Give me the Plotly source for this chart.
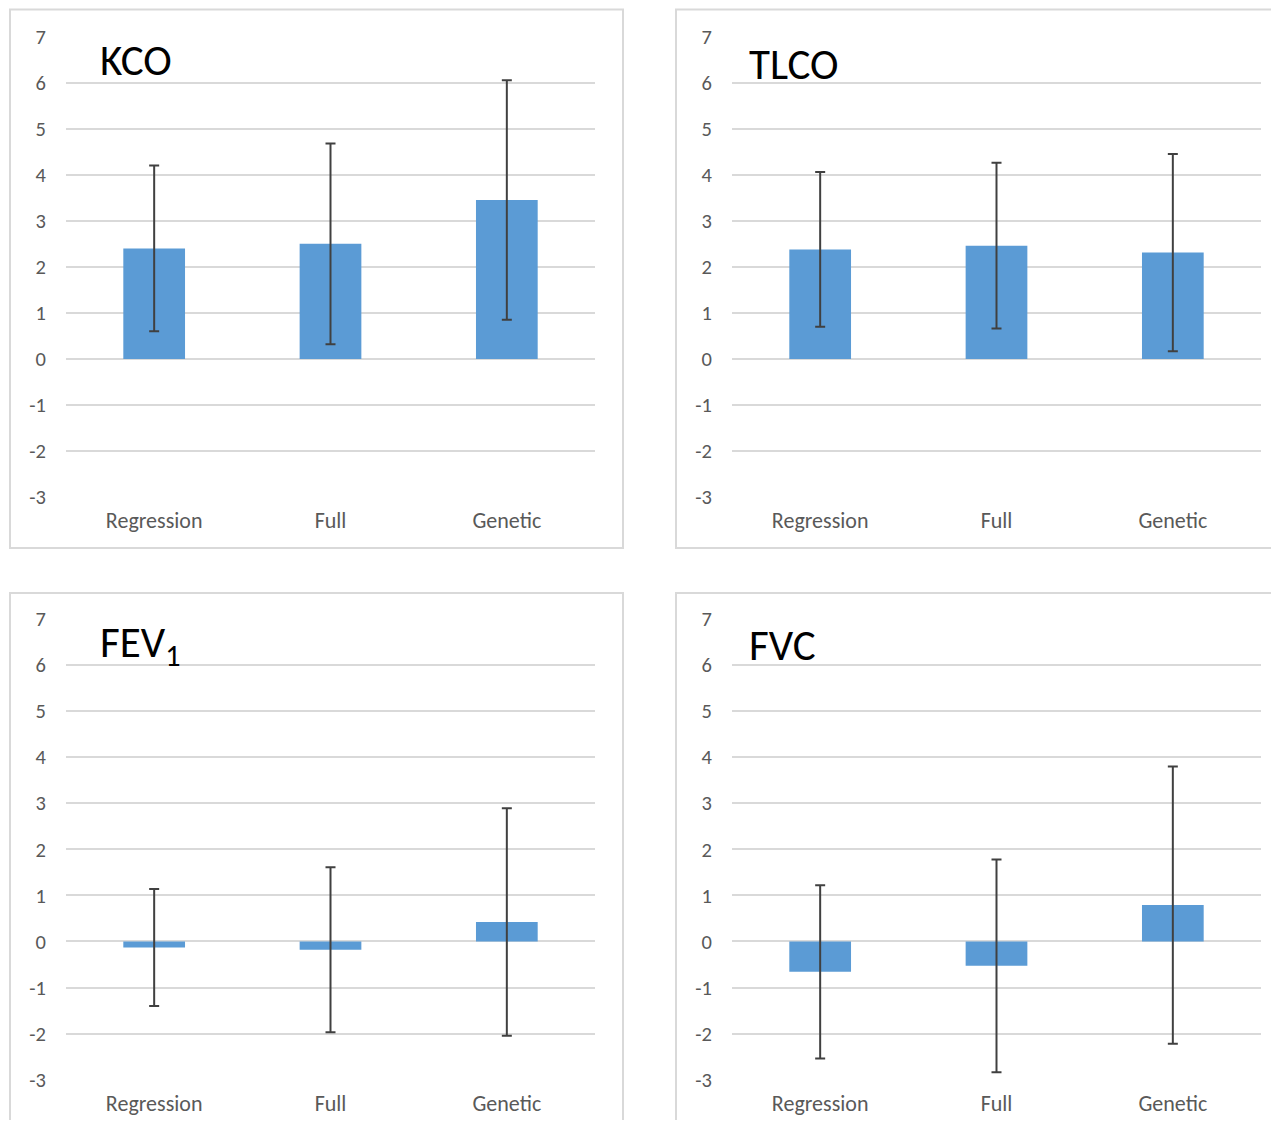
import plotly.graph_objects as go

categories = ["Regression", "Full", "Genetic"]
panel_titles = ["KCO", "TLCO", "FEV<sub>1</sub>", "FVC"]
kco_mean = [2.40, 2.50, 3.45]
kco_err = [1.80, 2.18, 2.60]
tlco_mean = [2.38, 2.46, 2.31]
tlco_err = [1.68, 1.80, 2.14]
fev1_mean = [-0.13, -0.18, 0.42]
fev1_err = [1.27, 1.79, 2.47]
fvc_mean = [-0.66, -0.53, 0.79]
fvc_err = [1.88, 2.31, 3.01]
y_ticks = [-3, -2, -1, 0, 1, 2, 3, 4, 5, 6, 7]
y_tick_text = ["-3", "-2", "-1", "0", "1", "2", "3", "4", "5", "6", "7"]

W, H = 1263, 1112
OX = 8            # page offset of plot area (x)
TY, HR = 21.4, 1087.0  # observed page offset / height of the paper area (y)
FONT = "Carlito, Calibri, Lato, Open Sans, sans-serif"


def px(x):
    return (x - OX) / W


def py(y):
    return 1 - (y - TY) / HR


means = [kco_mean, tlco_mean, fev1_mean, fvc_mean]
errs = [kco_err, tlco_err, fev1_err, fvc_err]

x_doms = [(px(66), px(595)), (px(732), px(1261))]
y_doms = [(py(498), py(37)), (py(1081), py(620))]

fig = go.Figure()
layout = dict(
    width=W, height=H,
    margin=dict(l=0, r=0, t=0, b=0),
    paper_bgcolor="white", plot_bgcolor="white",
    showlegend=False, bargap=0.65,
    font=dict(family=FONT, color="#595959", size=20),
)
annotations = []
shapes = []
for i in range(4):
    row, col = divmod(i, 2)
    ax = "" if i == 0 else str(i + 1)
    fig.add_trace(go.Bar(
        x=categories, y=means[i],
        xaxis="x" + ax, yaxis="y" + ax,
        marker=dict(color="#5B9BD5", line=dict(width=0)),
        error_y=dict(type="data", array=errs[i], visible=True,
                     color="#404040", thickness=2, width=5),
    ))
    layout["xaxis" + ax] = dict(
        domain=x_doms[col], anchor="y" + ax, showgrid=False,
        showline=False, zeroline=False, ticks="",
        ticklabelstandoff=8, tickfont=dict(family=FONT, size=22, color="#595959"),
    )
    layout["yaxis" + ax] = dict(
        domain=y_doms[row], anchor="x" + ax, range=[-3, 7],
        tickvals=y_ticks, ticktext=y_tick_text,
        showgrid=True, gridcolor="#D9D9D9", gridwidth=1.5,
        zeroline=True, zerolinecolor="#D9D9D9", zerolinewidth=1.5,
        showline=False, ticks="", ticklabelstandoff=19,
        tickfont=dict(family=FONT, size=20.5, color="#595959"),
    )
    bx0 = [10, 676][col]
    bx1 = [623, 1300][col]
    by0 = [10, 594][row]
    by1 = [549, 1160][row]
    shapes.append(dict(type="rect", xref="paper", yref="paper",
                       x0=px(bx0), x1=px(bx1), y0=py(by1), y1=py(by0),
                       line=dict(color="#D9D9D9", width=2), layer="below"))
    tx = [98, 747][col]
    ty = [61, 65, 646, 646][i]
    annotations.append(dict(text=panel_titles[i], xref="paper", yref="paper",
                            x=px(tx), y=py(ty), xanchor="left", yanchor="middle",
                            showarrow=False,
                            font=dict(family=FONT, size=43, color="black")))

layout["annotations"] = annotations
layout["shapes"] = shapes
fig.update_layout(**layout)
fig.write_html("out.html")
